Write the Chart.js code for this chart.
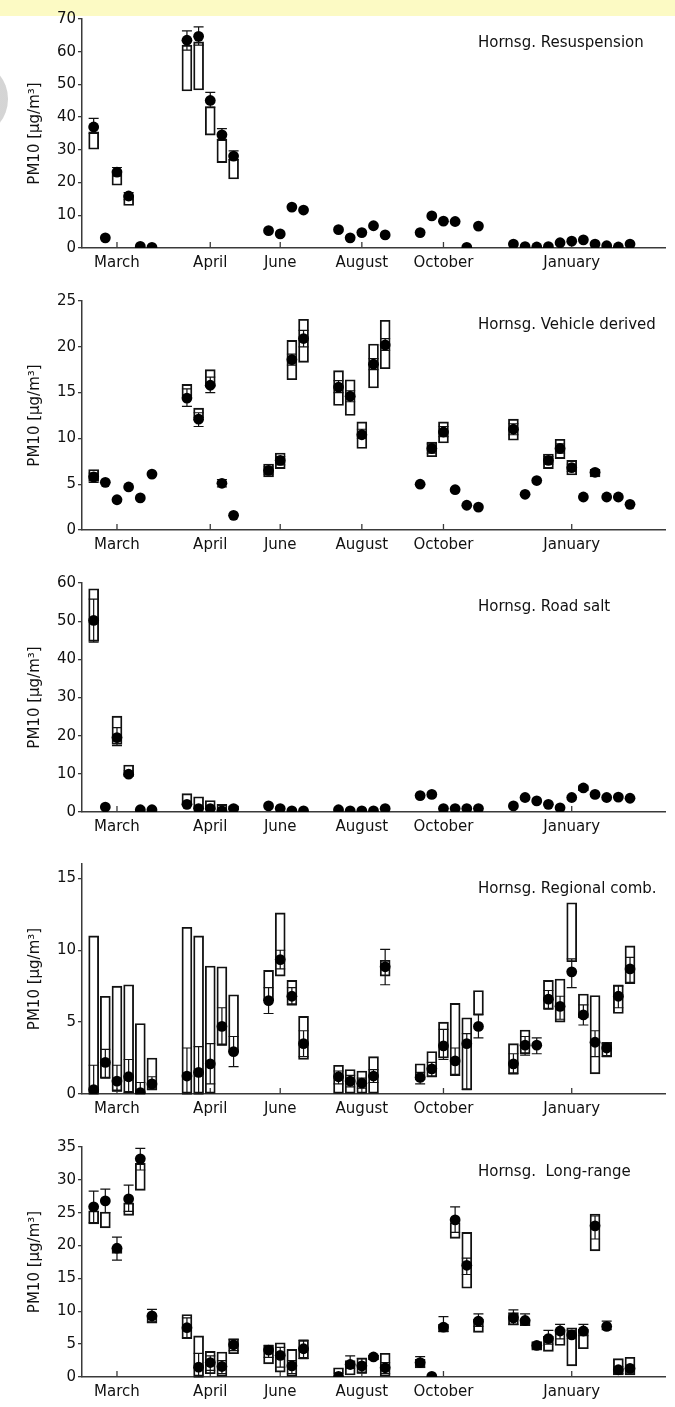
<!DOCTYPE html>
<html lang="en">
<head>
<meta charset="UTF-8">
<title>Hornsgatan PM10 source contributions</title>
<script src="https://cdn.jsdelivr.net/npm/chart.js"></script>
<style>
  body { margin: 0; background: #fff; }
  #page { position: relative; width: 675px; height: 1407px; overflow: hidden; background: #fff; }
  .band { position: absolute; left: 0; top: 0; width: 675px; height: 16px; background: #fcfac4; }
  .blob { position: absolute; left: -54px; top: 64px; width: 62px; height: 70px; border-radius: 50%;
          background: radial-gradient(#c6c6c6 0.6px, #efefef 0.9px); background-size: 2px 2px; }
  canvas { position: absolute; left: 0; }
  .tag { position: absolute; left: 478px; font: 15px "DejaVu Sans", sans-serif; line-height: 18px;
         color: #111; white-space: pre; }
</style>
</head>
<body>
<div id="page">
  <div class="band"></div>
  <div class="blob"></div>
</div>

<script>
// sample positions along the x axis (slot index, gaps between campaigns)
const slots = [0, 1, 2, 3, 4, 5, 8, 9, 10, 11, 12, 15, 16, 17, 18, 21, 22, 23, 24, 25,
               28, 29, 30, 31, 32, 33, 36, 37, 38, 39, 40, 41, 42, 43, 44, 45, 46];
const monthPos = [2, 10, 16, 23, 30, 41];
const monthNames = ['March', 'April', 'June', 'August', 'October', 'January'];

// Resuspension
const resMean = [37.0, 3.1, 23.2, 15.9, 0.5, 0.2, 63.5, 64.7, 45.1, 34.6, 28.1, 5.3, 4.3, 12.5, 11.6,
                 5.6, 3.1, 4.7, 6.8, 4.0, 4.7, 9.8, 8.2, 8.1, 0.2, 6.7,
                 1.2, 0.4, 0.3, 0.4, 1.6, 2.1, 2.5, 1.2, 0.7, 0.3, 1.2];
const resErr = [[35.0, 39.6], null, [22.0, 24.6], [14.8, 16.9], null, null,
                [60.5, 66.4], [62.0, 67.6], [43.0, 47.6], [33.2, 36.5], [27.0, 29.7],
                null, null, null, null, null, null, null, null, null,
                null, null, null, null, null, null,
                null, null, null, null, null, null, null, null, null, null, null];
const resBox = [[30.2, 35.5], null, [19.2, 22.7], [13.0, 16.0], null, null,
                [48.0, 62.0], [48.3, 63.0], [34.5, 43.2], [26.1, 33.2], [21.1, 27.2],
                null, null, null, null, null, null, null, null, null,
                null, null, null, null, null, null,
                null, null, null, null, null, null, null, null, null, null, null];

// Vehicle derived
const vehMean = [5.8, 5.2, 3.3, 4.7, 3.5, 6.1, 14.4, 12.1, 15.8, 5.1, 1.6, 6.5, 7.6, 18.6, 20.9,
                 15.6, 14.6, 10.4, 18.1, 20.2, 5.0, 8.9, 10.7, 4.4, 2.7, 2.5,
                 11.0, 3.9, 5.4, 7.6, 8.9, 6.8, 3.6, 6.3, 3.6, 3.6, 2.8];
const vehErr = [[5.2, 6.2], null, null, null, null, null,
                [13.5, 15.4], [11.3, 12.8], [15.0, 16.7], [4.7, 5.5], null,
                [6.1, 6.9], [7.1, 8.0], [18.0, 19.2], [20.0, 21.8],
                [15.0, 16.3], [14.0, 15.2], [10.0, 11.0], [17.5, 18.7], [19.6, 20.9],
                null, [8.4, 9.4], [10.2, 11.3], null, null, null,
                [10.4, 11.6], null, null, [7.2, 8.0], [8.4, 9.4], [6.4, 7.2], null, [6.0, 6.6], null, null, null];
const vehBox = [[5.3, 6.6], null, null, null, null, null,
                [14.6, 15.9], [12.2, 13.3], [15.6, 17.5], null, null,
                [5.8, 7.2], [6.7, 8.4], [16.4, 20.7], [18.3, 23.0],
                [13.6, 17.4], [12.5, 16.4], [8.9, 11.8], [15.5, 20.3], [17.6, 22.9],
                null, [8.0, 9.6], [9.5, 11.8], null, null, null,
                [9.8, 12.1], null, null, [6.7, 8.3], [7.8, 9.9], [6.0, 7.6], null, [5.8, 6.6], null, null, null];

// Road salt
const saltMean = [50.2, 1.3, 19.5, 9.9, 0.6, 0.6, 2.0, 0.9, 0.9, 0.3, 0.9, 1.6, 0.9, 0.3, 0.3,
                  0.6, 0.3, 0.3, 0.3, 0.9, 4.3, 4.6, 0.9, 0.9, 0.9, 0.9,
                  1.6, 3.8, 2.9, 2.0, 1.1, 3.8, 6.3, 4.6, 3.8, 3.9, 3.6];
const saltErr = [[44.5, 55.8], null, [17.4, 22.1], [9.3, 10.8], null, null,
                 null, null, null, null, null, null, null, null, null,
                 null, null, null, null, null, null, null, null, null, null, null,
                 null, null, null, null, null, null, null, null, null, null, null];
const saltBox = [[44.7, 58.5], null, [17.7, 25.1], [9.5, 12.3], null, null,
                 [1.8, 4.8], [0.8, 4.0], [0.6, 3.0], [0.2, 2.0], [0.5, 1.6],
                 null, null, null, null, null, null, null, null, null,
                 null, null, null, null, null, null,
                 null, null, null, null, null, null, [5.6, 6.9], null, null, null, null];

// Regional combustion
const regMean = [0.3, 2.2, 0.9, 1.2, 0.1, 0.7, 1.25, 1.5, 2.1, 4.7, 2.95, 6.5, 9.35, 6.8, 3.5,
                 1.2, 0.9, 0.75, 1.25, 8.85, 1.15, 1.75, 3.35, 2.3, 3.5, 4.7,
                 2.1, 3.4, 3.4, 6.6, 6.1, 8.5, 5.5, 3.6, 3.2, 6.8, 8.7];
const regErr = [[0, 2.0], [1.1, 3.1], [0.2, 2.0], [0.1, 2.4], [0, 0.8], [0.3, 1.2],
                [0, 3.2], [0, 3.3], [0.7, 3.5], [3.4, 6.0], [1.9, 4.0],
                [5.6, 7.4], [8.7, 10.0], [6.2, 7.4], [2.6, 4.4],
                [0.7, 1.6], [0.5, 1.3], [0.4, 1.1], [0.8, 1.7], [7.6, 10.06],
                [0.7, 1.5], [1.2, 2.2], [2.4, 4.5], [1.3, 3.2], [0.3, 4.2], [3.9, 5.5],
                [1.4, 2.8], [2.7, 4.0], [2.8, 3.9], [5.9, 7.2], [5.2, 6.8], [7.4, 9.4],
                [4.8, 6.2], [2.6, 4.4], [2.6, 3.5], [6.0, 7.5], [7.7, 9.5]];
const regBox = [[0, 11.0], [1.1, 6.8], [0.2, 7.5], [0.1, 7.6], [0, 4.9], [0.3, 2.5],
                [0, 11.6], [0, 11.0], [0, 8.9], [3.4, 8.85], [2.9, 6.9],
                [6.5, 8.6], [8.2, 12.6], [6.2, 7.9], [2.4, 5.4],
                [0, 2.0], [0, 1.7], [0, 1.6], [0, 2.6], [8.2, 9.3],
                [1.0, 2.1], [1.2, 2.95], [2.5, 5.0], [1.3, 6.3], [0.3, 5.3], [5.5, 7.2],
                [1.4, 3.5], [2.8, 4.45], null, [5.9, 7.9], [5.0, 8.0], [9.2, 13.3],
                [5.3, 6.95], [1.4, 6.85], [2.6, 3.6], [5.6, 7.6], [7.7, 10.3]];

// Long-range transport
const lrMean = [25.9, 26.8, 19.6, 27.1, 33.2, 9.3, 7.5, 1.5, 2.2, 1.6, 4.9, 4.1, 3.3, 1.7, 4.3,
                0.1, 1.9, 1.7, 3.05, 1.4, 2.2, 0.1, 7.6, 23.9, 17.0, 8.5,
                9.0, 8.6, 4.8, 5.85, 7.0, 6.4, 7.0, 23.0, 7.7, 1.1, 1.3];
const lrErr = [[23.5, 28.3], [25.0, 28.6], [17.8, 21.3], [25.2, 29.2], [31.5, 34.8], [8.4, 10.3],
               [6.0, 9.0], [0, 3.6], [1.0, 3.2], [0.5, 2.5], [4.0, 5.7],
               [3.0, 4.8], [1.5, 4.5], [0.5, 2.5], [2.8, 5.6],
               null, [1.3, 3.2], [0.6, 2.8], [2.7, 3.3], [0.5, 2.2],
               [1.5, 3.1], null, [6.9, 9.2], [22.0, 25.9], [15.6, 18.1], [7.7, 9.6],
               [8.0, 10.2], [7.9, 9.6], [4.3, 5.2], [5.0, 7.1], [5.8, 8.0], [5.9, 7.1],
               [6.3, 8.0], [21.0, 24.5], [7.2, 8.5], [0.5, 1.6], [0.6, 1.8]];
const lrBox = [[23.3, 25.3], [22.7, 25.1], [18.8, 19.8], [24.6, 26.5], [28.4, 32.5], [8.2, 9.4],
               [5.85, 9.5], [0, 6.25], [0.5, 3.9], [0, 3.8], [3.55, 5.85],
               [2.0, 4.8], [0.75, 5.2], [0, 4.2], [2.8, 5.6],
               [0.5, 1.4], [0.3, 2.5], [0.6, 2.9], [2.6, 3.3], [0.1, 3.6],
               [1.4, 2.7], null, [6.9, 8.0], [21.1, 23.5], [13.5, 22.0], [6.8, 8.8],
               [7.9, 9.8], [7.8, 8.8], [4.1, 5.4], [3.9, 6.2], [4.8, 7.3], [1.7, 7.5],
               [4.3, 7.3], [19.2, 24.8], null, [0.3, 2.8], [0.3, 3.0]];

const FONT = { family: 'DejaVu Sans', size: 15 };
const INK = '#111';
const AXIS = '#3a3a3a';

// error bars with caps, plus month tick marks pointing up into the plot
const extrasPlugin = {
    id: 'extras',
    beforeDatasetsDraw(chart, args, opts) {
        const { ctx, scales: { x, y } } = chart;
        ctx.save();
        ctx.strokeStyle = INK;
        ctx.lineWidth = 1.2;
        opts.err.forEach((r, i) => {
            if (!r) return;
            const px = x.getPixelForValue(slots[i]);
            const lo = y.getPixelForValue(r[0]);
            const hi = y.getPixelForValue(r[1]);
            ctx.beginPath();
            ctx.moveTo(px, lo); ctx.lineTo(px, hi);
            ctx.moveTo(px - 5, lo); ctx.lineTo(px + 5, lo);
            ctx.moveTo(px - 5, hi); ctx.lineTo(px + 5, hi);
            ctx.stroke();
        });
        ctx.strokeStyle = AXIS;
        ctx.lineWidth = 1.3;
        monthPos.forEach(m => {
            const px = x.getPixelForValue(m);
            ctx.beginPath();
            ctx.moveTo(px, y.bottom);
            ctx.lineTo(px, y.bottom - 6);
            ctx.stroke();
        });
        ctx.restore();
    }
};

const panels = [
    { name: 'Hornsg. Resuspension',   mean: resMean,  err: resErr,  box: resBox,  max: 70, step: 10, top: 19,  bottom: 248,  tagTop: 33 },
    { name: 'Hornsg. Vehicle derived', mean: vehMean, err: vehErr,  box: vehBox,  max: 25, step: 5,  top: 301, bottom: 530,  tagTop: 315 },
    { name: 'Hornsg. Road salt',      mean: saltMean, err: saltErr, box: saltBox, max: 60, step: 10, top: 583, bottom: 812,  tagTop: 597 },
    { name: 'Hornsg. Regional comb.', mean: regMean,  err: regErr,  box: regBox,  max: 16, step: 5,  top: 864, bottom: 1094, tagTop: 879 },
    { name: 'Hornsg.  Long-range',    mean: lrMean,   err: lrErr,   box: lrBox,   max: 35, step: 5,  top: 1147, bottom: 1377, tagTop: 1162 }
];

const page = document.getElementById('page');

function makePanel(p) {
    const padTop = 14, axisH = 30;
    const h = padTop + (p.bottom - p.top) + axisH;
    const canvas = document.createElement('canvas');
    canvas.width = 675;
    canvas.height = h;
    canvas.style.top = (p.top - padTop) + 'px';
    canvas.style.width = '675px';
    canvas.style.height = h + 'px';
    page.appendChild(canvas);

    const tag = document.createElement('div');
    tag.className = 'tag';
    tag.style.top = p.tagTop + 'px';
    tag.textContent = p.name;
    page.appendChild(tag);

    const dots = slots.map((s, i) => ({ x: s, y: p.mean[i] }));
    const boxes = [];
    slots.forEach((s, i) => { if (p.box[i]) boxes.push({ x: s, y: p.box[i] }); });

    new Chart(canvas.getContext('2d'), {
        type: 'scatter',
        data: {
            datasets: [
                {
                    type: 'scatter',
                    data: dots,
                    order: 0,
                    pointRadius: 5.4,
                    pointBackgroundColor: '#000',
                    pointBorderWidth: 0
                },
                {
                    type: 'bar',
                    data: boxes,
                    order: 1,
                    barThickness: 10,
                    backgroundColor: 'rgba(255,255,255,0)',
                    borderColor: INK,
                    borderWidth: 1.2,
                    borderSkipped: false
                }
            ]
        },
        options: {
            responsive: false,
            animation: false,
            events: [],
            layout: { padding: { top: padTop, right: 10, left: 0, bottom: 0 } },
            plugins: {
                legend: { display: false },
                tooltip: { enabled: false },
                extras: { err: p.err }
            },
            scales: {
                x: {
                    type: 'linear',
                    min: -1,
                    max: 49,
                    offset: false,
                    grid: { display: false, drawTicks: false, offset: false },
                    border: { display: true, color: AXIS, width: 1.5 },
                    afterBuildTicks: s => { s.ticks = monthPos.map(v => ({ value: v })); },
                    ticks: {
                        autoSkip: false,
                        maxRotation: 0,
                        padding: 6,
                        color: INK,
                        font: FONT,
                        callback: (v, i) => monthNames[i]
                    },
                    afterFit: s => { s.height = axisH; }
                },
                y: {
                    min: 0,
                    max: p.max,
                    grid: { drawOnChartArea: false, drawTicks: true, tickLength: 4, color: AXIS, lineWidth: 1.3 },
                    border: { display: true, color: AXIS, width: 1.5 },
                    ticks: { stepSize: p.step, includeBounds: false, padding: 2, color: INK, font: FONT },
                    title: {
                        display: true,
                        text: 'PM10 [μg/m³]',
                        color: INK,
                        font: FONT,
                        padding: { top: 26, bottom: 0 }
                    },
                    afterFit: s => { s.width = 82; }
                }
            }
        },
        plugins: [extrasPlugin]
    });
}

panels.forEach(makePanel);
</script>
</body>
</html>
